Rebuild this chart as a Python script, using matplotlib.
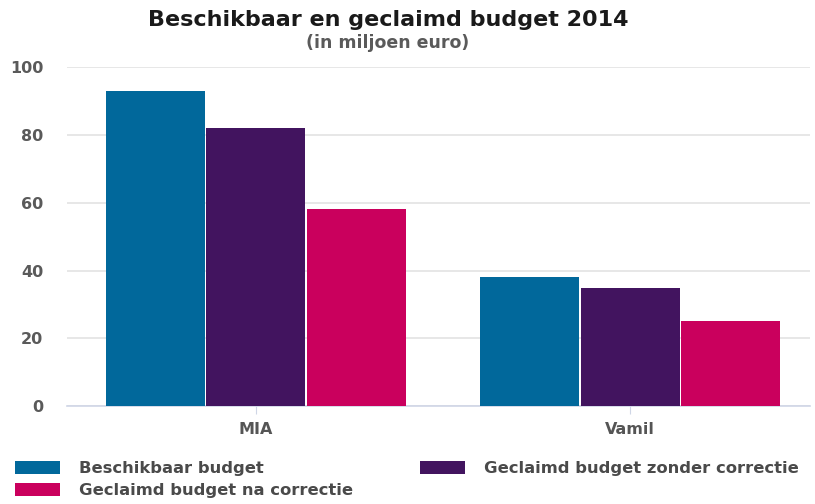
import numpy as np
import matplotlib
matplotlib.use("Agg")
import matplotlib.pyplot as plt

plt.rcParams['font.family'] = ['DejaVu Sans']

# data (in miljoen euro)
categories = ["MIA", "Vamil"]
series_names = ["Beschikbaar budget", "Geclaimd budget zonder correctie", "Geclaimd budget na correctie"]
beschikbaar = [93, 38]
zonder_correctie = [82, 35]
na_correctie = [58, 25]
yticks = [0, 20, 40, 60, 80, 100]

colors = ["#01689b", "#42145f", "#ca005d"]
text_col = "#4a4a4a"

fig = plt.figure(figsize=(8.15, 5.04), dpi=100)
ax = fig.add_axes([0.082, 0.194, 0.912, 0.673])

x = np.arange(len(categories))
w = 0.264
step = 0.268
bars = []
for i, (vals, name) in enumerate(zip([beschikbaar, zonder_correctie, na_correctie], series_names)):
    b = ax.bar(x + (i - 1) * step, vals, width=w, color=colors[i], label=name, zorder=3)
    bars.append(b)

ax.set_ylim(0, 100)
ax.set_xlim(-0.504, 1.48)
ax.set_yticks(yticks)
# y labels sit a little below their gridlines in the original
ax.set_yticklabels([str(v) for v in yticks], fontsize=11.5, color="#5a5a5a", fontweight='bold',
                   va='center_baseline')
ax.set_xticks(x)
ax.set_xticklabels(categories, fontsize=11.5, color="#555555", fontweight='bold')
ax.grid(axis='y', color="#e3e3e3", linewidth=1.2, zorder=0)
for s in ["top", "right", "left"]:
    ax.spines[s].set_visible(False)
ax.spines["bottom"].set_color("#cfd6e6")
ax.spines["bottom"].set_linewidth(1.2)
ax.tick_params(axis='y', length=0, pad=17)
ax.tick_params(axis='x', length=6, color="#cfd6e6", pad=5)

fig.text(0.476, 0.948, "Beschikbaar en geclaimd budget 2014", ha='center', va='baseline',
         fontsize=16, fontweight='bold', color="#1a1a1a")
fig.text(0.475, 0.905, "(in miljoen euro)", ha='center', va='baseline',
         fontsize=12.5, fontweight='bold', color="#5a5a5a")

handles = [bars[0], bars[2], bars[1]]
labels = [series_names[0], series_names[2], series_names[1]]
leg = fig.legend(handles, labels, ncol=2, loc='upper left', bbox_to_anchor=(0.0184, 0.085),
                 frameon=False, fontsize=11.8, handlelength=2.75, handleheight=0.8,
                 columnspacing=4.1, labelspacing=0.42, handletextpad=1.15,
                 borderaxespad=0, borderpad=0)
for t in leg.get_texts():
    t.set_color(text_col)
    t.set_fontweight('bold')

fig.savefig("out.png", dpi=100)
